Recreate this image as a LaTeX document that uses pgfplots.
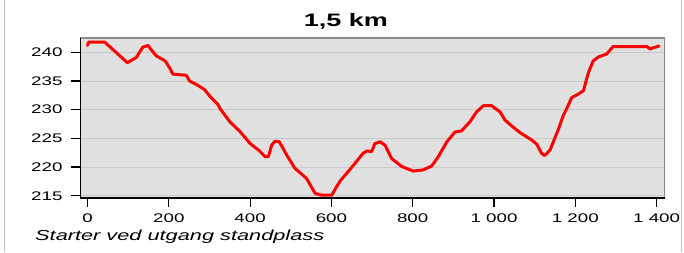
\documentclass[border=0pt]{standalone}
\usepackage{fontspec}
\setmainfont{Liberation Sans}[FakeStretch=1.5]
\usepackage{pgfplots}
\pgfplotsset{compat=1.18}
\definecolor{plotbg}{RGB}{224,224,224}
\definecolor{gridc}{RGB}{200,200,200}
\definecolor{framec}{RGB}{140,140,140}
\definecolor{outerc}{RGB}{190,190,190}
\begin{document}
\begin{tikzpicture}[x=1pt,y=1pt]
\useasboundingbox (0,0) rectangle (684,252);
\draw[outerc, line width=1pt] (4.5,0) -- (4.5,252);
\draw[outerc, line width=1pt] (681,0) -- (681,252);
\node[font=\fontsize{18}{20}\selectfont\bfseries, anchor=base, inner sep=0pt] at (346,225.3) {1,5 km};
\node[font=\fontsize{14.5}{16}\selectfont\itshape, anchor=base west, inner sep=0pt] at (35,11.3) {Starter ved utgang standplass};
\begin{axis}[
  at={(80pt,53.7pt)}, anchor=south west,
  scale only axis, width=585pt, height=160.3pt,
  xmin=-18.5, xmax=1420.7, ymin=214.55, ymax=242.5,
  axis background/.style={fill=plotbg},
  axis line style={draw=none},
  xtick={0,200,...,1400}, ytick={215,220,...,240},
  ymajorgrids, grid style={color=gridc, line width=0.8pt},
  tick pos=left, tick align=outside, major tick length=9pt,
  tick style={black, line width=1.2pt},
  ticklabel style={font=\fontsize{12.5}{14}\selectfont},
  yticklabel shift=5pt, xticklabel shift=2.5pt,
  /pgf/number format/assume math mode=true,
  /pgf/number format/1000 sep={~},
]
\addplot[color=red, line width=3pt, line join=round, line cap=round] coordinates {
(0,241.2) (3,241.8) (42,241.8) (98,238.2) (120,239.1) (136,240.9) (149,241.2)
(155,240.6) (169,239.4) (191,238.5) (202,237.3) (210,236.2) (243,236.0)
(251,235.0) (268,234.4) (288,233.5) (304,232.1) (321,230.9) (326,230.2)
(350,227.9) (375,226.2) (400,224.1) (420,223.0) (437,221.8) (445,221.8)
(453,223.8) (461,224.5) (472,224.4) (490,222.1) (510,219.8) (539,218.0)
(560,215.4) (576,215.1) (601,215.1) (613,216.6) (623,217.7) (646,219.6)
(678,222.4) (687,222.8) (699,222.7) (707,224.1) (720,224.4) (732,223.8)
(748,221.5) (773,220.1) (801,219.3) (826,219.5) (847,220.2) (863,221.8)
(884,224.4) (904,226.1) (920,226.3) (941,227.9) (957,229.6) (974,230.7)
(994,230.7) (1015,229.6) (1027,228.2) (1043,227.2) (1064,226.0) (1093,224.7)
(1105,224.0) (1117,222.4) (1125,222.0) (1138,223.0) (1158,226.5) (1170,228.9)
(1179,230.2) (1191,232.1) (1207,232.7) (1220,233.3) (1232,236.4) (1244,238.5)
(1257,239.2) (1277,239.7) (1293,241.0) (1376,241.0) (1384,240.6) (1392,240.8)
(1406,241.1)
};
\draw[framec, line width=1.3pt] (rel axis cs:0,1) -- (rel axis cs:1,1) -- (rel axis cs:1,0);
\draw[black, line width=1.8pt] (rel axis cs:0,1) -- (rel axis cs:0,0) -- (rel axis cs:1,0);
\end{axis}
\end{tikzpicture}
\end{document}
